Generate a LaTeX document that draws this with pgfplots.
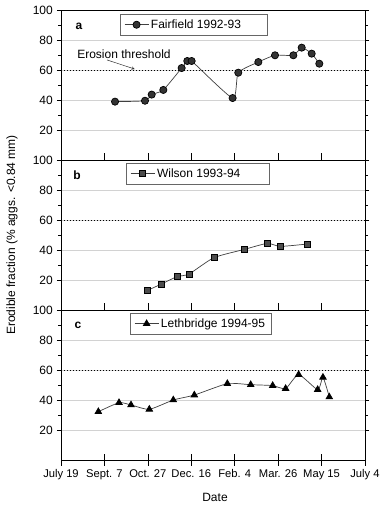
\documentclass[border=0pt]{standalone}
\usepackage{fontspec}
\setmainfont{Liberation Sans}
\usepackage{pgfplots}
\pgfplotsset{compat=1.18}
\begin{document}
\fontsize{12}{14}\selectfont
\begin{tikzpicture}[font=\fontsize{12}{14}\selectfont]
\pgfplotsset{
 panel/.style={
  scale only axis, width=304pt, height=150pt,
  xmin=0, xmax=350, ymin=0, ymax=100,
  xtick=\empty,
  extra x ticks={0,50,...,350},
  extra x tick labels={},
  extra x tick style={major tick length=7pt, tick align=inside},
  ytick={20,40,60,80,100},
  minor y tick num=1,
  xtick pos=bottom, ytick pos=both, yticklabel pos=left,
  tick align=outside,
  major tick length=4pt, minor tick length=2.5pt,
  ymajorgrids, major grid style={gray!35, line width=0.4pt},
  /pgf/number format/assume math mode=true,
  tick label style={font=\fontsize{12}{14}\selectfont},
  x tick label style={font=\fontsize{11.2}{13}\selectfont},
  axis line style={line width=0.6pt},
  tick style={line width=0.5pt, black},
  legend cell align=left,
  legend style={draw=black!60, line width=0.5pt, inner xsep=4pt, inner ysep=3.5pt,
    font=\fontsize{12}{14}\selectfont},
  legend image code/.code={\draw[mark repeat=2,mark phase=2] plot coordinates {(0pt,0pt)(12pt,0pt)(24pt,0pt)};},
 },
 ser/.style={black!75, line width=0.7pt, smooth, tension=0.35},
}
\path[use as bounding box] (-61pt,-50pt) rectangle (328pt,460pt);

% Panel a
\begin{axis}[panel, at={(0pt,300pt)}, anchor=south west,
  legend style={at={(0.194,0.975)}, anchor=north west}]
\addplot[black, line width=0.7pt, dash pattern=on 1pt off 2pt, forget plot] coordinates {(0,60)(350,60)};
\addplot[ser, mark=*, mark size=3.6pt, mark options={fill=black!80, draw=black, solid}] coordinates {
(62.2,38.9)(96.7,39.5)(104.4,43.6)(117.8,46.7)(138.9,61.3)(145.4,66)(150.4,66)(197.6,41.3)(204.1,58.2)(227.2,65.3)(246.4,69.8)(267.5,69.8)(277.1,74.9)(288.6,70.9)(297.4,64.2)};
\addlegendentry{Fairfield 1992-93\hspace*{20pt}\mbox{}}
\node[font=\fontsize{12}{14}\selectfont\bfseries] at (rel axis cs:0.059,0.893) {a};
\node at (axis cs:72.5,70.5) {Erosion threshold};
\draw[-stealth, line width=0.5pt, black!80] (axis cs:53,66.7) -- (axis cs:85,60.6);
\end{axis}

% Panel b
\begin{axis}[panel, at={(0pt,150pt)}, anchor=south west,
  legend style={at={(0.214,0.982)}, anchor=north west}]
\addplot[black, line width=0.7pt, dash pattern=on 1pt off 2pt, forget plot] coordinates {(0,60)(350,60)};
\addplot[ser, mark=square*, mark size=3pt, mark options={fill=black!70, draw=black, solid}] coordinates {
(99.8,13.1)(115.5,17.3)(133.5,22.2)(147.4,24)(176.1,34.9)(211.1,40.4)(237.5,44.4)(252.5,42.4)(284,44)};
\addlegendentry{Wilson 1993-94\hspace*{23pt}\mbox{}}
\node[font=\fontsize{12}{14}\selectfont\bfseries] at (rel axis cs:0.053,0.9) {b};
\end{axis}

% Panel c
\begin{axis}[panel, at={(0pt,0pt)}, anchor=south west,
  extra x tick labels={July 19, Sept. 7, Oct. 27, Dec. 16, Feb. 4, Mar. 26, May 15, July 4},
  extra x tick style={major tick length=11pt, tick align=center},
  legend style={at={(0.227,0.982)}, anchor=north west}]
\addplot[black, line width=0.7pt, dash pattern=on 1pt off 2pt, forget plot] coordinates {(0,60)(350,60)};
\addplot[ser, mark=triangle*, mark size=3.8pt, mark options={fill=black, draw=black, solid}] coordinates {
(43,32.2)(66.8,38.2)(80.6,36.7)(101.7,33.8)(129.3,40)(153.5,43.3)(191.5,50.9)(218.4,50.2)(243.7,49.6)(258.6,47.6)(273.6,56.9)(295.5,46.9)(301.6,55.1)(308.9,42)};
\addlegendentry{Lethbridge 1994-95}
\node[font=\fontsize{12}{14}\selectfont\bfseries] at (rel axis cs:0.056,0.9) {c};
\end{axis}

\node[rotate=90] at (-49pt,225pt) {Erodible fraction (\% aggs. <0.84 mm)};
\node at (154pt,-37pt) {Date};
\end{tikzpicture}
\end{document}
